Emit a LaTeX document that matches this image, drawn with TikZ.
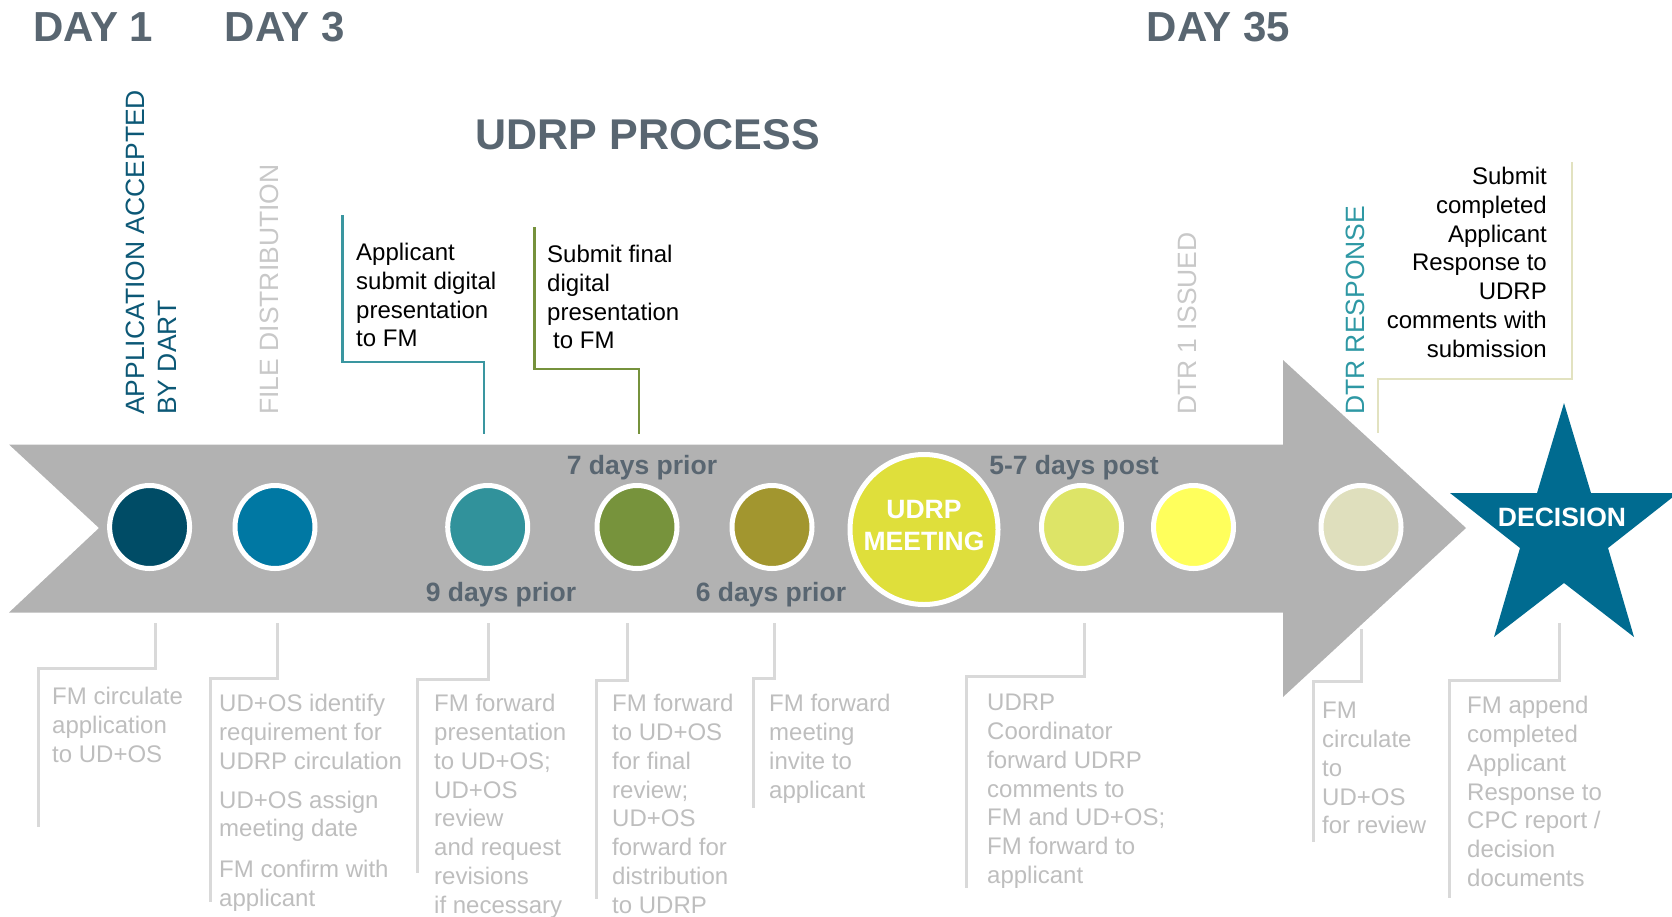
\documentclass[tikz,border=0pt]{standalone}
\usepackage{fontspec}
\setmainfont{Liberation Sans}
\usetikzlibrary{shapes.geometric}
\definecolor{slate}{RGB}{89,102,113}
\definecolor{arrowgray}{RGB}{178,178,178}
\definecolor{appteal}{RGB}{12,88,118}
\definecolor{lightgrey}{RGB}{200,200,200}
\definecolor{dtrteal}{RGB}{46,152,164}
\definecolor{lineA}{RGB}{58,150,160}
\definecolor{lineB}{RGB}{118,146,60}
\definecolor{lineR}{RGB}{226,226,192}
\definecolor{botline}{RGB}{217,217,217}
\definecolor{bottxt}{RGB}{190,190,190}
\definecolor{cA}{RGB}{0,76,102}
\definecolor{cB}{RGB}{0,120,163}
\definecolor{cC}{RGB}{49,146,155}
\definecolor{cD}{RGB}{119,147,60}
\definecolor{cE}{RGB}{162,150,47}
\definecolor{cM}{RGB}{223,223,59}
\definecolor{cF}{RGB}{221,228,103}
\definecolor{cG}{RGB}{255,255,92}
\definecolor{cH}{RGB}{223,223,189}
\definecolor{starblue}{RGB}{0,107,144}
\tikzset{
  heading/.style={font=\fontsize{42}{50}\selectfont\bfseries, text=slate, inner sep=0pt, anchor=base west},
  vlabel/.style={font=\fontsize{26.5}{31.8}\selectfont, rotate=90, anchor=north west, inner sep=0pt, align=left},
  daylabel/.style={font=\fontsize{26.5}{31.8}\selectfont\bfseries, text=slate, anchor=base, inner sep=0pt},
  tdot/.style={ellipse, draw=white, line width=5pt, minimum width=80pt, minimum height=83pt, inner sep=0pt},
  toptext/.style={font=\fontsize{24}{28.8}\selectfont, inner sep=0pt, anchor=north west, align=left},
  bottext/.style={toptext, text=bottxt},
  bline/.style={draw=botline, line width=3pt},
  tline/.style={line width=2.5pt},
}
\begin{document}
\begin{tikzpicture}[x=1pt,y=-1pt]
\useasboundingbox (0,0) rectangle (1672,916);
% headings
\node[heading] (d1) at (33,41) {DAY 1};
\node[heading] (d3) at (224.5,41) {DAY 3};
\node[heading] (d35) at (1146.5,41) {DAY 35};
\node[heading, font=\fontsize{43}{50}\selectfont\bfseries] (title) at (475.5,149) {UDRP PROCESS};
% vertical labels
\node[vlabel, text=appteal] (vapp) at (126,415) {APPLICATION ACCEPTED\\BY DART};
\node[vlabel, text=lightgrey] (vfile) at (260,415) {FILE DISTRIBUTION};
\node[vlabel, text=lightgrey] (vdtr) at (1178,415) {DTR 1 ISSUED};
\node[vlabel, text=dtrteal] (vresp) at (1346,415) {DTR RESPONSE};
% top callouts
\draw[tline, draw=lineA] (342.7,215) -- (342.7,362) -- (484,362) -- (484,434);
\node[toptext] (ta) at (356,243) {Applicant\\submit digital\\presentation\\to FM};
\draw[tline, draw=lineB] (534.7,227) -- (534.7,369) -- (639,369) -- (639,434);
\node[toptext] (tb) at (547,245) {Submit final\\digital\\presentation\\\hspace*{6pt}to FM};
\draw[tline, draw=lineR] (1572,162) -- (1572,379) -- (1378,379) -- (1378,433);
\node[toptext, anchor=north east, align=right] (tr) at (1547,167) {Submit\\completed\\Applicant\\Response to\\UDRP\\comments with\\submission};
% arrow
\fill[arrowgray] (9,444.5) -- (1283,444.5) -- (1283,360) -- (1466,528) -- (1283,697) -- (1283,612.5) -- (9,612.5) -- (99,528) -- cycle;
% circles
\node[tdot, fill=cA] (c1) at (149.6,527) {};
\node[tdot, fill=cB] (c2) at (275,527) {};
\node[tdot, fill=cC] (c3) at (487.7,527) {};
\node[tdot, fill=cD] (c4) at (637,527) {};
\node[tdot, fill=cE] (c5) at (772,527) {};
\node[tdot, fill=cM, minimum width=148pt, minimum height=150pt] (meet) at (924,529.5) {};
\node[font=\fontsize{26.5}{32}\selectfont\bfseries, text=white, align=center, inner sep=0pt, anchor=north] (meettxt) at (924,500) {UDRP\\MEETING};
\node[tdot, fill=cF] (c6) at (1081.5,527) {};
\node[tdot, fill=cG] (c7) at (1193.5,527) {};
\node[tdot, fill=cH] (c8) at (1361,527) {};
% day labels
\node[daylabel] (l7) at (642,474) {7 days prior};
\node[daylabel] (l9) at (501,601) {9 days prior};
\node[daylabel] (l6) at (771,601) {6 days prior};
\node[daylabel] (l57) at (1074,474) {5-7 days post};
% star
\fill[starblue] (1564,403) -- (1591,493) -- (1678,493) -- (1608,548) -- (1634,637) -- (1564,583) -- (1494,637) -- (1520,548) -- (1450,493) -- (1537,493) -- cycle;
\node[daylabel, text=white] (dec) at (1562,526) {DECISION};
% bottom callouts
\draw[bline] (155,623) -- (155,668) -- (38,668) -- (38,827);
\node[bottext] (b1) at (52,687) {FM circulate\\application\\to UD+OS};
\draw[bline] (277,623) -- (277,678) -- (210,678) -- (210,902);
\node[bottext] (b2) at (219,694) {UD+OS identify\\requirement for\\UDRP circulation\\[10pt]UD+OS assign\\meeting date\\[12pt]FM confirm with\\applicant};
\draw[bline] (488.5,623) -- (488.5,679) -- (417,679) -- (417,873);
\node[bottext] (b3) at (434,694) {FM forward\\presentation\\to UD+OS;\\UD+OS\\review\\and request\\revisions\\if necessary};
\draw[bline] (627,623) -- (627,680) -- (596.5,680) -- (596.5,899);
\node[bottext] (b4) at (612,694) {FM forward\\to UD+OS\\for final\\review;\\UD+OS\\forward for\\distribution\\to UDRP};
\draw[bline] (774,623) -- (774,678) -- (753,678) -- (753,808);
\node[bottext] (b5) at (769,694) {FM forward\\meeting\\invite to\\applicant};
\draw[bline] (1084,623) -- (1084,676) -- (966,676) -- (966,888);
\node[bottext] (b6) at (987,694) {UDRP\\Coordinator\\forward UDRP\\comments to\\FM and UD+OS;\\FM forward to\\applicant};
\draw[bline] (1361,629) -- (1361,681) -- (1313,681) -- (1313,842);
\node[bottext] (b7) at (1322,702) {FM\\circulate\\to\\UD+OS\\for review};
\draw[bline] (1559,623) -- (1559,680) -- (1449,680) -- (1449,898);
\node[bottext] (b8) at (1467,696) {FM append\\completed\\Applicant\\Response to\\CPC report /\\decision\\documents};
\end{tikzpicture}
\end{document}
